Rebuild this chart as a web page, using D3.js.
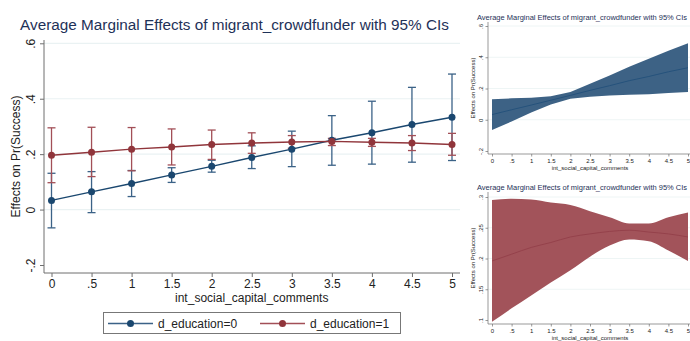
<!DOCTYPE html>
<html>
<head>
<meta charset="utf-8">
<script src="https://cdn.jsdelivr.net/npm/d3@7"></script>
<style>
  body { margin: 0; background: #fff; }
  svg { display: block; font-family: "Liberation Sans", Arial, sans-serif; }
</style>
</head>
<body>
<div id="chart"></div>
<script>
const xs = [0, 0.5, 1, 1.5, 2, 2.5, 3, 3.5, 4, 4.5, 5];
const xTickLabels = ['0', '.5', '1', '1.5', '2', '2.5', '3', '3.5', '4', '4.5', '5'];

const edu0 = [0.033, 0.064, 0.094, 0.125, 0.156, 0.188, 0.218, 0.250, 0.277, 0.307, 0.333];
const edu0Lo = [-0.066, -0.011, 0.047, 0.098, 0.135, 0.148, 0.155, 0.160, 0.164, 0.171, 0.177];
const edu0Hi = [0.131, 0.137, 0.141, 0.151, 0.178, 0.230, 0.283, 0.339, 0.391, 0.441, 0.489];

const edu1 = [0.196, 0.207, 0.218, 0.226, 0.235, 0.240, 0.244, 0.246, 0.243, 0.240, 0.235];
const edu1Lo = [0.097, 0.119, 0.140, 0.161, 0.181, 0.203, 0.221, 0.231, 0.228, 0.213, 0.196];
const edu1Hi = [0.295, 0.297, 0.296, 0.291, 0.287, 0.277, 0.267, 0.257, 0.257, 0.267, 0.275];

const yTicksMain = [-0.2, 0, 0.2, 0.4, 0.6];
const yTickLabelsMain = ['-.2', '0', '.2', '.4', '.6'];
const yTicksRed = [0.1, 0.15, 0.2, 0.25, 0.3];
const yTickLabelsRed = ['.1', '.15', '.2', '.25', '.3'];

const seriesNames = ['d_education=0', 'd_education=1'];
const title = 'Average Marginal Effects of migrant_crowdfunder with 95% CIs';
const xTitle = 'int_social_capital_comments';
const yTitle = 'Effects on Pr(Success)';

const BLUE = '#1a476f', BLUE_BAR = '#3b6287', BLUE_BAND = '#3d6285';
const RED = '#90353b', RED_BAR = '#a24f57', RED_BAND = '#a2535a';
const GRID = '#eaf2f3', AXIS = '#6e6e6e', TITLE = '#1e3158', TEXT = '#222';

const svg = d3.select('#chart').append('svg')
  .attr('width', 690).attr('height', 341);

// draws frame, grid, axes and titles; returns scales
function panel(o) {
  const g = svg.append('g');
  const x = d3.scaleLinear().domain([0, 5]).range(o.xr);
  const y = d3.scaleLinear().domain(o.yd).range(o.yr);
  const left = o.left, bottom = o.bottom, top = o.top, right = o.right;

  // grid lines (not the lowest tick, it sits on the axis)
  g.selectAll('.grid').data(o.yTicks.slice(1)).enter().append('line')
    .attr('x1', left).attr('x2', right)
    .attr('y1', d => y(d)).attr('y2', d => y(d))
    .attr('stroke', GRID).attr('stroke-width', o.fs > 9 ? 1.2 : 0.8);

  // y axis, labels turned like Stata does
  const ya = g.append('g').attr('transform', `translate(${left},0)`)
    .call(d3.axisLeft(y).tickValues(o.yTicks).tickSize(o.tick)
      .tickFormat((d, i) => o.yLabels[i]));
  ya.select('.domain').attr('d', `M0,${top}V${bottom}`);
  ya.selectAll('text')
    .attr('transform', `translate(${-o.tick - o.fs * 0.4},0) rotate(-90)`)
    .attr('x', 0).attr('y', 0).attr('dy', 0)
    .attr('text-anchor', 'middle');

  // x axis
  const xa = g.append('g').attr('transform', `translate(0,${bottom})`)
    .call(d3.axisBottom(x).tickValues(xs).tickSize(o.tick)
      .tickFormat((d, i) => xTickLabels[i]));
  xa.select('.domain').attr('d', `M${left},0H${right}`);
  xa.selectAll('text').attr('y', o.tick + 2).attr('dy', '0.71em');

  g.selectAll('.domain, .tick line').attr('stroke', AXIS)
    .attr('stroke-width', o.fs > 9 ? 1 : 0.7);
  g.selectAll('.tick text').attr('fill', TEXT).attr('font-size', o.fs)
    .attr('font-family', '"Liberation Sans", Arial, sans-serif');

  g.append('text').attr('x', (left + right) / 2 - (o.titleShift || 0)).attr('y', o.titleY)
    .attr('text-anchor', 'middle').attr('fill', TITLE)
    .attr('font-size', o.titleFs).text(title);
  g.append('text').attr('x', (x(0) + x(5)) / 2).attr('y', o.xTitleY)
    .attr('text-anchor', 'middle').attr('fill', TEXT)
    .attr('font-size', o.fs).text(xTitle);
  g.append('text')
    .attr('transform', `translate(${o.yTitleX},${(top + bottom) / 2}) rotate(-90)`)
    .attr('text-anchor', 'middle').attr('fill', TEXT)
    .attr('font-size', o.fs).text(yTitle);
  return { g, x, y };
}

// ---- main panel: points with capped CIs ----
const main = panel({
  xr: [51.5, 452], yd: [-0.2, 0.6], yr: [265, 43.3],
  left: 44, right: 460, top: 40, bottom: 273, tick: 4, fs: 12,
  yTicks: yTicksMain, yLabels: yTickLabelsMain,
  titleY: 30, titleFs: 15.3, titleShift: 17.5, xTitleY: 302, yTitleX: 20
});

function errorSeries(p, lo, hi, barCol) {
  const g = p.g.append('g');
  xs.forEach((xv, i) => {
    const cx = p.x(xv);
    g.append('line').attr('x1', cx).attr('x2', cx)
      .attr('y1', p.y(lo[i])).attr('y2', p.y(hi[i]))
      .attr('stroke', barCol).attr('stroke-width', 1.3);
    [lo[i], hi[i]].forEach(v => {
      g.append('line').attr('x1', cx - 4).attr('x2', cx + 4)
        .attr('y1', p.y(v)).attr('y2', p.y(v))
        .attr('stroke', barCol).attr('stroke-width', 1.3);
    });
  });
  return g;
}
function pointSeries(p, vals, col) {
  const g = p.g.append('g');
  g.append('path')
    .attr('d', d3.line().x((d, i) => p.x(xs[i])).y(d => p.y(d))(vals))
    .attr('fill', 'none').attr('stroke', col).attr('stroke-width', 1.4);
  g.selectAll('circle').data(vals).enter().append('circle')
    .attr('cx', (d, i) => p.x(xs[i])).attr('cy', d => p.y(d))
    .attr('r', 3.5).attr('fill', col);
}

errorSeries(main, edu0Lo, edu0Hi, BLUE_BAR);
errorSeries(main, edu1Lo, edu1Hi, RED_BAR);
pointSeries(main, edu0, BLUE);
pointSeries(main, edu1, RED);

// legend
const lg = svg.append('g');
lg.append('rect').attr('x', 103.5).attr('y', 312.5).attr('width', 297).attr('height', 21)
  .attr('fill', '#fff').attr('stroke', '#777').attr('stroke-width', 1);
[[108, BLUE, BLUE_BAR, seriesNames[0]], [260, RED, RED_BAR, seriesNames[1]]].forEach(([lx, col, lineCol, name]) => {
  lg.append('line').attr('x1', lx).attr('x2', lx + 45).attr('y1', 323.5).attr('y2', 323.5)
    .attr('stroke', lineCol).attr('stroke-width', 1.4);
  lg.append('circle').attr('cx', lx + 22.5).attr('cy', 323.5).attr('r', 3.5).attr('fill', col);
  lg.append('text').attr('x', lx + 50).attr('y', 327.8).attr('fill', TEXT)
    .attr('font-size', 12).text(name);
});

// ---- small panels: shaded CI bands ----
function bandPanel(p, vals, lo, hi, fill, lineCol, curve) {
  const area = d3.area().curve(curve)
    .x((d, i) => p.x(xs[i])).y0((d, i) => p.y(lo[i])).y1((d, i) => p.y(hi[i]));
  p.g.append('path').attr('d', area(vals)).attr('fill', fill);
  p.g.append('path')
    .attr('d', d3.line().curve(curve).x((d, i) => p.x(xs[i])).y(d => p.y(d))(vals))
    .attr('fill', 'none').attr('stroke', lineCol).attr('stroke-width', 0.9);
}

const topRight = panel({
  xr: [492, 688], yd: [-0.2, 0.6], yr: [151, 26],
  left: 488, right: 690, top: 22, bottom: 154, tick: 2.5, fs: 6,
  yTicks: yTicksMain, yLabels: yTickLabelsMain,
  titleY: 19.7, titleFs: 7.5, titleShift: 7, xTitleY: 169.5, yTitleX: 475
});
bandPanel(topRight, edu0, edu0Lo, edu0Hi, BLUE_BAND, '#23507a', d3.curveLinear);

const botRight = panel({
  xr: [492, 688], yd: [0.1, 0.3], yr: [320, 197],
  left: 488, right: 690, top: 192, bottom: 324, tick: 2.5, fs: 6,
  yTicks: yTicksRed, yLabels: yTickLabelsRed,
  titleY: 189.7, titleFs: 7.5, titleShift: 7, xTitleY: 339.5, yTitleX: 475
});
bandPanel(botRight, edu1, edu1Lo, edu1Hi, RED_BAND, '#93404a', d3.curveMonotoneX);
</script>
</body>
</html>
